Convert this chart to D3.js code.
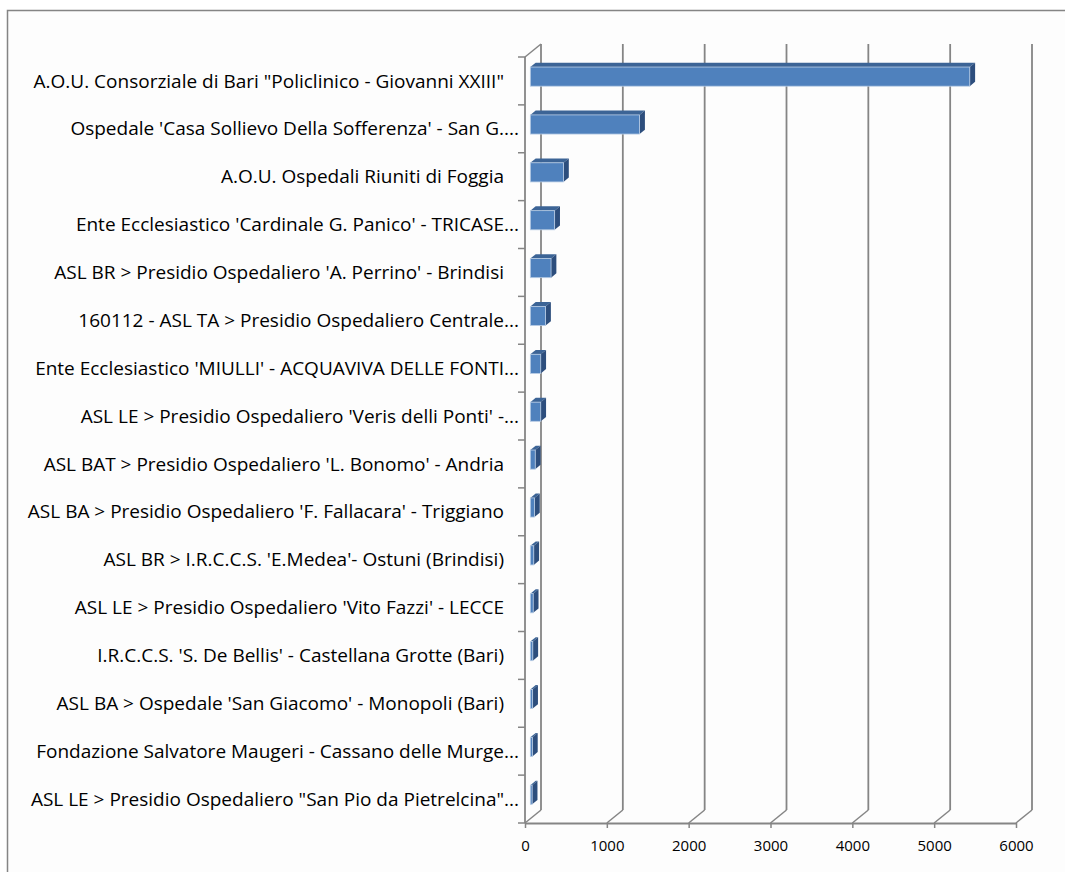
<!DOCTYPE html>
<html>
<head>
<meta charset="utf-8">
<script src="https://cdn.jsdelivr.net/npm/d3@7"></script>
<style>
  body { margin: 0; background: #fff; }
  text { font-family: "Open Sans", "Noto Sans", sans-serif; fill: #000; }
</style>
</head>
<body>
<svg id="chart"></svg>
<script>
const width = 1065;
const height = 872;

// hospitals, top to bottom
const categories = [
  "A.O.U. Consorziale di Bari \"Policlinico - Giovanni XXIII\"",
  "Ospedale 'Casa Sollievo Della Sofferenza' - San G....",
  "A.O.U. Ospedali Riuniti di Foggia",
  "Ente Ecclesiastico 'Cardinale G. Panico' - TRICASE...",
  "ASL BR > Presidio Ospedaliero 'A. Perrino' - Brindisi",
  "160112 - ASL TA > Presidio Ospedaliero Centrale...",
  "Ente Ecclesiastico 'MIULLI' - ACQUAVIVA DELLE FONTI...",
  "ASL LE > Presidio Ospedaliero 'Veris delli Ponti' -...",
  "ASL BAT > Presidio Ospedaliero 'L. Bonomo' - Andria",
  "ASL BA > Presidio Ospedaliero 'F. Fallacara' - Triggiano",
  "ASL BR > I.R.C.C.S. 'E.Medea'- Ostuni (Brindisi)",
  "ASL LE > Presidio Ospedaliero 'Vito Fazzi' - LECCE",
  "I.R.C.C.S. 'S. De Bellis' - Castellana Grotte (Bari)",
  "ASL BA > Ospedale 'San Giacomo' - Monopoli (Bari)",
  "Fondazione Salvatore Maugeri - Cassano delle Murge...",
  "ASL LE > Presidio Ospedaliero \"San Pio da Pietrelcina\"..."
];

const values = [5370, 1335, 405, 297, 253, 186, 127, 127, 60, 50, 42, 35, 30, 28, 25, 22];

const xTicks = [0, 1000, 2000, 3000, 4000, 5000, 6000];

// 3D box: front plane + depth offset to the back wall
const plot = { left: 525, right: 1016, top: 57, bottom: 823 };
const depth = { dx: 16, dy: -13 };
const barFront = 1 / 3, barBack = 2 / 3; // bar sits in the middle of the depth

const gridColor = "#858585";

const svg = d3.select("#chart")
  .attr("width", width)
  .attr("height", height);

// outer chart border (runs off right and bottom edges)
svg.append("rect")
  .attr("x", 7.5)
  .attr("y", 10.5)
  .attr("width", width + 20)
  .attr("height", height + 20)
  .attr("fill", "#fdfdfd")
  .attr("stroke", gridColor)
  .attr("stroke-width", 1.5);

const xScale = d3.scaleLinear()
  .domain([0, 6000])
  .range([plot.left, plot.right]);

const yScale = d3.scaleBand()
  .domain(categories)
  .range([plot.top, plot.bottom])
  .paddingInner(0.6)
  .paddingOuter(0.3);

// back wall gridlines
svg.append("g")
  .selectAll("line")
  .data(xTicks)
  .enter()
  .append("line")
  .attr("x1", d => xScale(d) + depth.dx)
  .attr("x2", d => xScale(d) + depth.dx)
  .attr("y1", plot.top + depth.dy)
  .attr("y2", plot.bottom + depth.dy)
  .attr("stroke", gridColor)
  .attr("stroke-width", 1.8);

// floor diagonals
svg.append("g")
  .selectAll("line")
  .data(xTicks)
  .enter()
  .append("line")
  .attr("x1", d => xScale(d))
  .attr("y1", plot.bottom)
  .attr("x2", d => xScale(d) + depth.dx)
  .attr("y2", plot.bottom + depth.dy)
  .attr("stroke", gridColor)
  .attr("stroke-width", 1.5);

// top-left diagonal of the side wall
svg.append("line")
  .attr("x1", plot.left)
  .attr("y1", plot.top)
  .attr("x2", plot.left + depth.dx)
  .attr("y2", plot.top + depth.dy)
  .attr("stroke", gridColor)
  .attr("stroke-width", 1.5);

// category axis line and ticks at band boundaries
svg.append("line")
  .attr("x1", plot.left)
  .attr("x2", plot.left)
  .attr("y1", plot.top)
  .attr("y2", plot.bottom)
  .attr("stroke", gridColor)
  .attr("stroke-width", 1.8);

svg.append("g")
  .selectAll("line")
  .data(d3.range(categories.length + 1))
  .enter()
  .append("line")
  .attr("x1", plot.left - 7)
  .attr("x2", plot.left)
  .attr("y1", i => plot.top + i * yScale.step())
  .attr("y2", i => plot.top + i * yScale.step())
  .attr("stroke", gridColor)
  .attr("stroke-width", 1.5);

// value axis
const xAxis = d3.axisBottom(xScale)
  .tickValues(xTicks)
  .tickFormat(d3.format("d"))
  .tickSize(5)
  .tickSizeOuter(0)
  .tickPadding(12);

const axisG = svg.append("g")
  .attr("transform", `translate(0, ${plot.bottom})`)
  .call(xAxis);
axisG.select(".domain").attr("stroke", gridColor).attr("stroke-width", 1.8);
axisG.selectAll(".tick line").attr("stroke", gridColor).attr("stroke-width", 1.5);
axisG.selectAll(".tick text")
  .attr("font-family", "'Open Sans', 'Noto Sans', sans-serif")
  .attr("font-size", 15)
  .attr("fill", "#000");

// 3D bars
const bars = svg.append("g")
  .selectAll("g")
  .data(categories.map((c, i) => ({ name: c, value: values[i] })))
  .enter()
  .append("g");

function pt(x, y, f) {
  return [x + f * depth.dx, y + f * depth.dy];
}

bars.append("polygon")
  .attr("points", d => {
    const x0 = xScale(0), x1 = xScale(d.value), y0 = yScale(d.name);
    return [pt(x0, y0, barFront), pt(x1, y0, barFront), pt(x1, y0, barBack), pt(x0, y0, barBack)].join(" ");
  })
  .attr("fill", "#3c6496");

bars.append("polygon")
  .attr("points", d => {
    const x1 = xScale(d.value), y0 = yScale(d.name), h = yScale.bandwidth();
    return [pt(x1, y0, barFront), pt(x1, y0, barBack), pt(x1, y0 + h, barBack), pt(x1, y0 + h, barFront)].join(" ");
  })
  .attr("fill", "#2d4e7d");

bars.append("rect")
  .attr("x", d => xScale(0) + barFront * depth.dx)
  .attr("y", d => yScale(d.name) + barFront * depth.dy)
  .attr("width", d => xScale(d.value) - xScale(0))
  .attr("height", yScale.bandwidth())
  .attr("fill", "#4f81bd")
  .attr("stroke", "#b9cde5")
  .attr("stroke-width", 0.8);

// category labels
svg.append("g")
  .selectAll("text")
  .data(categories)
  .enter()
  .append("text")
  .attr("x", d => d.endsWith("...") ? 519 : 504)
  .attr("y", d => yScale(d) + yScale.bandwidth() / 2)
  .attr("dy", "0.35em")
  .attr("text-anchor", "end")
  .attr("font-size", 19)
  .text(d => d);
</script>
</body>
</html>
